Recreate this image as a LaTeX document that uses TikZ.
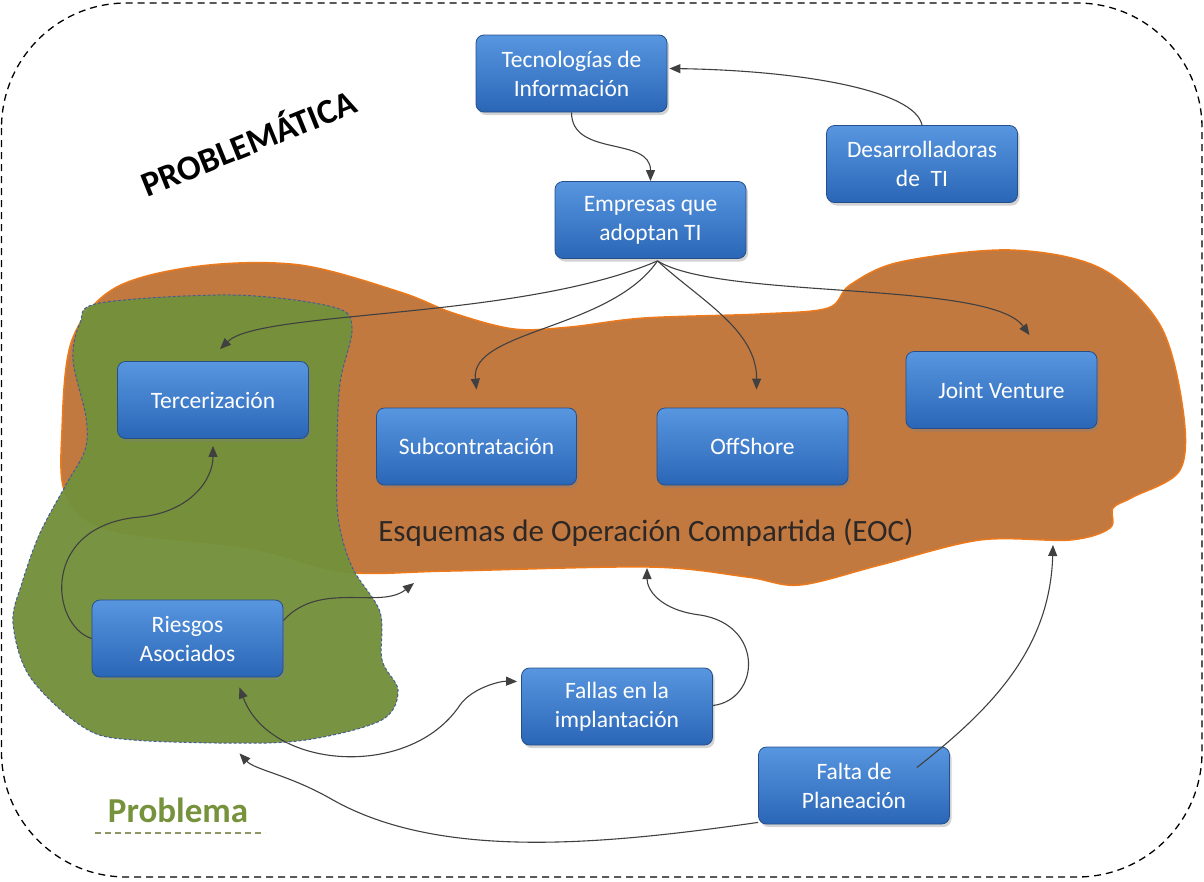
\documentclass[tikz,border=0pt]{standalone}
\usepackage{fontspec}
\setmainfont{Carlito}
\usetikzlibrary{arrows.meta,shadows,calc}
\definecolor{boxtop}{RGB}{88,150,224}
\definecolor{boxbot}{RGB}{42,102,182}
\definecolor{boxedge}{RGB}{38,78,138}
\definecolor{eocfill}{RGB}{193,121,64}
\definecolor{eocedge}{RGB}{236,122,28}
\definecolor{probfill}{RGB}{114,144,58}
\definecolor{probedge}{RGB}{70,92,150}
\definecolor{arr}{RGB}{64,64,64}
\definecolor{probtext}{RGB}{118,146,60}
\definecolor{probline}{RGB}{140,150,100}
\definecolor{eoctext}{RGB}{45,40,38}
\tikzset{
  stepbox/.style={draw=boxedge, line width=0.8pt, rounded corners=8pt,
    top color=boxtop, bottom color=boxbot, minimum width=191pt, minimum height=77pt,
    text=white, align=center, inner sep=2pt, font=\fontsize{23.5}{29}\selectfont,
    drop shadow={shadow xshift=2pt, shadow yshift=-3pt, opacity=0.35}},
  conn/.style={draw=arr, line width=1.1pt, -{Triangle[length=11pt,width=9pt]}},
  biconn/.style={draw=arr, line width=1.1pt, {Triangle[length=11pt,width=9pt]}-{Triangle[length=11pt,width=9pt]}}
}
\begin{document}
\begin{tikzpicture}[x=1pt,y=-1pt]
\useasboundingbox (0,0) rectangle (1204,881);
% outer dashed frame
\draw[line width=1.3pt, dash pattern=on 7pt off 5pt, rounded corners=125pt] (1.5,3) rectangle (1202,877);
% EOC blob
\fill[eocfill, draw=eocedge, line width=1.5pt] plot[smooth cycle, tension=0.55] coordinates {
 (62,430) (72,340) (115,288) (200,266) (300,265) (400,292) (453,313) (514,329) (570,327)
 (644,318) (760,314) (828,308) (850,285) (900,262) (1010,250) (1100,268) (1160,325)
 (1183,410) (1180,470) (1133,497) (1113,508) (1110,528) (1070,540) (980,540) (880,565)
 (800,585) (747,577) (650,567) (450,571) (345,572) (250,548) (110,530) (66,495)};
% Problem blob
\fill[probfill, fill opacity=0.96, draw=probedge, line width=1pt, dash pattern=on 3pt off 2pt] plot[smooth cycle, tension=0.55] coordinates {
 (100,303) (233,295) (333,307) (352,328) (340,383) (337,450) (338,517) (352,567)
 (380,612) (382,660) (398,690) (385,718) (333,735) (267,743) (133,740) (83,727)
 (30,677) (13,623) (22,583) (40,533) (67,483) (85,450) (86,417) (73,360) (80,323)};
% texts
\node[rotate=22, font=\bfseries\fontsize{35}{40}\selectfont] (title) at (248,141) {PROBLEMÁTICA};
\node[font=\fontsize{31}{36}\selectfont, text=eoctext] (eoc) at (646,533) {Esquemas de Operación Compartida (EOC)};
\node[font=\bfseries\fontsize{35}{40}\selectfont, text=probtext] (prob) at (178,810) {Problema};
\draw[probline, line width=2pt, dash pattern=on 6pt off 4pt] (95,833) -- (265,833);
% boxes
\node[stepbox] (tec) at (571.5,73.5) {Tecnologías de\\Información};
\node[stepbox] (des) at (922,164) {Desarrolladoras\\de~~TI};
\node[stepbox] (emp) at (650.5,220) {Empresas que\\adoptan TI};
\node[stepbox] (terc) at (213,400) {Tercerización};
\node[stepbox, minimum width=200pt] (sub) at (476.5,446.5) {Subcontratación};
\node[stepbox] (off) at (752.5,446.5) {OffShore};
\node[stepbox] (jv) at (1001.5,390) {Joint Venture};
\node[stepbox] (ries) at (187.5,638.5) {Riesgos\\Asociados};
\node[stepbox] (fall) at (617,706.5) {Fallas en la\\implantación};
\node[stepbox] (falta) at (854,785.5) {Falta de\\Planeación};
% free ends on the EOC region
\coordinate (eocA) at (414,583);
\coordinate (eocB) at (647,568);
\coordinate (eocC) at (1053,545);
% connectors
\draw[conn] (tec.south) .. controls +(0,45) and +(0,-45) .. (emp.north);
\draw[conn] (des.north) .. controls +(-7,-35) and +(131,2) .. ($(tec.east)+(2,-5)$);
\draw[conn] ($(emp.south)+(7,2)$) .. controls (520,320) and (260,310) .. ($(terc.north)+(7,-12)$);
\draw[conn] ($(emp.south)+(7,2)$) .. controls (610,330) and (470,330) .. ($(sub.north)+(0,-18)$);
\draw[conn] ($(emp.south)+(7,2)$) .. controls (700,300) and (757,330) .. ($(off.north)+(4,-18)$);
\draw[conn] ($(emp.south)+(7,2)$) .. controls (720,300) and (990,280) .. ($(jv.north)+(28,-16)$);
\draw[conn] (ries.west) .. controls (50,625) and (40,525) .. (140,517) .. controls (190,512) and (213,480) .. ($(terc.south)+(0,7)$);
\draw[conn] ($(ries.east)+(0,-18)$) .. controls (320,580) and (380,610) .. (eocA);
\draw[biconn] ($(ries.south)+(52,10)$) .. controls (270,770) and (410,780) .. (460,705) .. controls (472,688) and (500,681) .. ($(fall.west)+(-4,-25)$);
\draw[conn] ($(fall.east)+(0,-1)$) .. controls (760,700) and (765,625) .. (700,615) .. controls (660,610) and (647,590) .. (eocB);
\draw[conn] ($(falta.east)+(-33,-18)$) .. controls (990,710) and (1050,650) .. (eocC);
\draw[conn] ($(falta.south west)+(0,-2)$) .. controls (600,845) and (440,860) .. (333,800) .. controls (290,775) and (255,770) .. ($(ries.south)+(52,76)$);
\end{tikzpicture}
\end{document}
